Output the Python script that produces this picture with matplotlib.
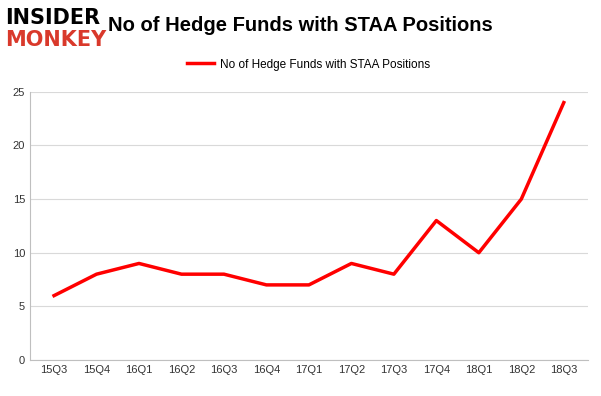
import matplotlib.pyplot as plt

plt.rcParams['font.family'] = ['Liberation Sans', 'DejaVu Sans']

quarters = ['15Q3', '15Q4', '16Q1', '16Q2', '16Q3', '16Q4', '17Q1',
            '17Q2', '17Q3', '17Q4', '18Q1', '18Q2', '18Q3']
funds = [6, 8, 9, 8, 8, 7, 7, 9, 8, 13, 10, 15, 24]
series_name = 'No of Hedge Funds with STAA Positions'

fig = plt.figure(figsize=(6.01, 3.96), dpi=100)
ax = fig.add_axes([0.050, 0.091, 0.928, 0.677])

x = list(range(len(quarters)))
ax.plot(x, funds, color='#ff0000', linewidth=2.5, label=series_name)

ax.set_xlim(-0.565, len(quarters) - 1 + 0.565)
ax.set_ylim(0, 25)
ax.set_yticks([0, 5, 10, 15, 20, 25])
ax.set_xticks(x)
ax.set_xticklabels(quarters)
ax.tick_params(labelsize=8, length=0, colors='#333333')
ax.grid(axis='y', color='#d9d9d9', linewidth=0.8)
ax.set_axisbelow(True)
for side in ['top', 'right']:
    ax.spines[side].set_visible(False)
for side in ['left', 'bottom']:
    ax.spines[side].set_color('#bfbfbf')

ax.legend(loc='lower center', bbox_to_anchor=(0.5, 1.04), frameon=False,
          fontsize=8.5, handlelength=2.3, handletextpad=0.5)

fig.text(0.5, 0.935, 'No of Hedge Funds with STAA Positions',
         ha='center', va='center', fontsize=14.5, fontweight='bold')

# logo
fig.text(0.008, 0.955, 'INSIDER', ha='left', va='center', fontsize=15,
         fontweight='heavy', color='black', family='DejaVu Sans')
fig.text(0.008, 0.9, 'MONKEY', ha='left', va='center', fontsize=15,
         fontweight='heavy', color='#d9392b', family='DejaVu Sans')

fig.savefig('out.png', dpi=100)
